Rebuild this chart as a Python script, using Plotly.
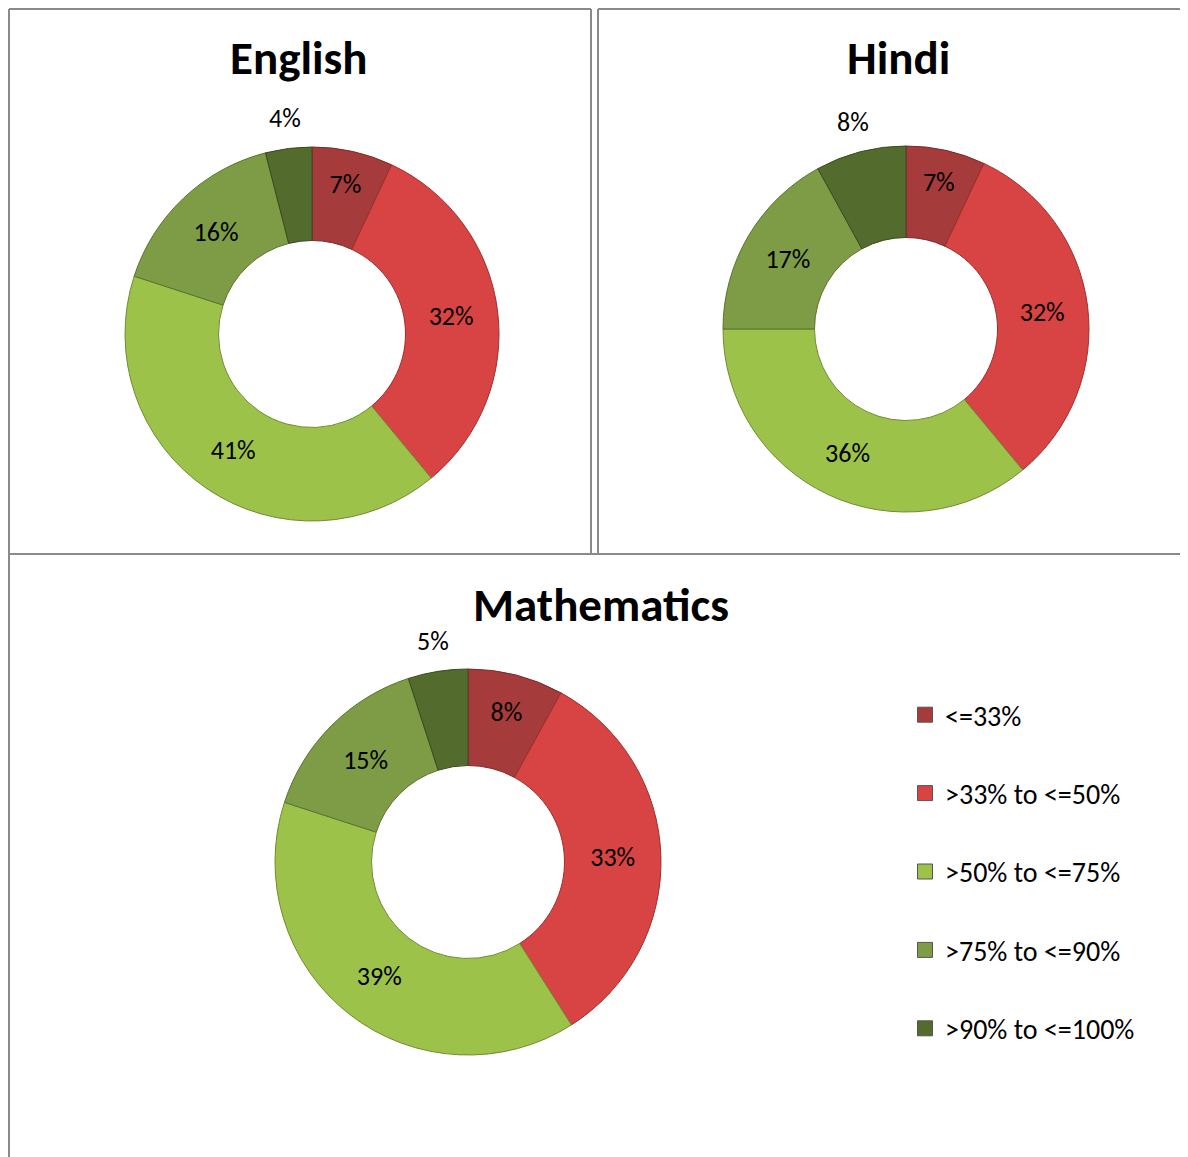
import math
import plotly.graph_objects as go

categories = ["<=33%", ">33% to <=50%", ">50% to <=75%", ">75% to <=90%", ">90% to <=100%"]
english = [7, 32, 41, 16, 4]
hindi = [7, 32, 36, 17, 8]
maths = [8, 33, 39, 15, 5]
subjects = ["English", "Hindi", "Mathematics"]

colors = ["#A53C3B", "#D84443", "#9DC24A", "#7D9C45", "#546B2E"]
line_colors = ["#7A2A2A", "#9E2F2E", "#6F8C33", "#5A7330", "#3A4A20"]

W, H = 1188, 1157
OFF = 8  # page body margin offset
FONT = "Carlito, Lato, 'Liberation Sans', sans-serif"


def px(x):
    return (x - OFF) / W


def py(y):
    return 1 - (y - OFF) / H


def dom(cx, cy, r):
    return dict(x=[px(cx - r), px(cx + r)], y=[py(cy + r), py(cy - r)])


fig = go.Figure()
anns = []
pies = [(english, (312, 334, 187)), (hindi, (906, 329, 183)), (maths, (468, 862, 193))]
for vals, (cx, cy, r) in pies:
    pos = ["inside"] * 4 + ["none"]
    fig.add_trace(go.Pie(
        labels=categories, values=vals, sort=False, direction="clockwise", rotation=0,
        hole=0.5, domain=dom(cx, cy, r), texttemplate="%{value}%",
        textposition=pos, insidetextorientation="horizontal",
        textfont=dict(family=FONT, size=26, color="black"),
        marker=dict(colors=colors, line=dict(color=line_colors, width=1)),
        showlegend=False, hoverinfo="label+value",
    ))
    # label of the small last slice, placed outside at its mid-angle
    total = sum(vals)
    mid = 2 * math.pi * (total - vals[-1] / 2) / total
    lr = r + 31
    anns.append(dict(text="%d%%" % vals[-1], x=px(cx + lr * math.sin(mid)), y=py(cy - lr * math.cos(mid)),
                     xref="paper", yref="paper", xanchor="center", yanchor="middle", showarrow=False,
                     font=dict(family=FONT, size=26, color="black")))

for c, col in zip(categories, colors):
    fig.add_trace(go.Scatter(
        x=[None], y=[None], mode="markers", name=c, legendgroup=c,
        marker=dict(symbol="square", size=15, color=col, line=dict(color="#555", width=1)),
        showlegend=True,
    ))

titles = [("English", 299, 58), ("Hindi", 898, 58), ("Mathematics", 601, 605)]
for t, x, y in titles:
    anns.append(dict(text="<b>%s</b>" % t, x=px(x), y=py(y), xref="paper", yref="paper",
                     xanchor="center", yanchor="middle", showarrow=False,
                     font=dict(family=FONT, size=47, color="black")))

gray = "#8A8A8A"
shapes = []


def line(x0, y0, x1, y1, w=2):
    shapes.append(dict(type="line", xref="paper", yref="paper", x0=px(x0), y0=py(y0),
                       x1=px(x1), y1=py(y1), line=dict(color=gray, width=w)))


line(9, 9, 591, 9)
line(9, 9, 9, 1170)
line(591, 9, 591, 554)
line(598, 9, 1200, 9)
line(598, 9, 598, 554)
line(0, 554, 1200, 554)

fig.update_layout(
    width=W, height=H, margin=dict(l=0, r=0, t=0, b=0),
    paper_bgcolor="white", plot_bgcolor="white",
    xaxis=dict(visible=False), yaxis=dict(visible=False),
    annotations=anns, shapes=shapes,
    legend=dict(x=px(905), y=py(690), xanchor="left", yanchor="top",
                font=dict(family=FONT, size=28, color="black"),
                traceorder="grouped", tracegroupgap=39, itemwidth=30,
                bgcolor="rgba(0,0,0,0)"),
)
fig.write_html("out.html")
